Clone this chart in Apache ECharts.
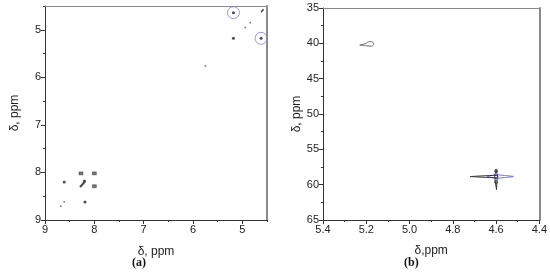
<!DOCTYPE html>
<html>
<head>
<meta charset="utf-8">
<script src="https://cdn.jsdelivr.net/npm/echarts@6/dist/echarts.min.js"></script>
<style>
html,body{margin:0;padding:0;background:#fff;}
#chart{width:550px;height:280px;}
</style>
</head>
<body>
<div id="chart"></div>
<script>
// panel (a): tick labels
var xTicksA = [9, 8, 7, 6, 5];
var yTicksA = [5, 6, 7, 8, 9];
// panel (b): tick labels
var xTicksB = [5.4, 5.2, 5.0, 4.8, 4.6, 4.4];
var yTicksB = [35, 40, 45, 50, 55, 60, 65];

// panel (a) peaks [x ppm, y ppm]
var peaksA = [[5.18, 4.64], [4.62, 5.18], [5.18, 5.18], [8.61, 8.2], [8.19, 8.62], [8.2, 8.18]];
var squaresA = [[8.27, 8.02], [8.0, 8.02], [8.0, 8.29]];
var smearA = [[8.29, 8.31], [8.19, 8.19]];
var smearTopA = [[4.62, 4.63], [4.57, 4.57]];
var weakA = [[4.84, 4.85], [4.94, 4.95], [5.75, 5.76], [8.68, 8.71], [8.61, 8.62]];
var circledA = [[5.18, 4.64], [4.62, 5.18]];

// panel (b) contours [x ppm, y ppm]
var contourB1 = [[5.23, 40.25], [5.205, 40.05], [5.185, 39.75], [5.17, 39.85], [5.165, 40.15], [5.175, 40.4], [5.2, 40.35], [5.23, 40.25]];
var contourB2 = [[4.72, 58.85], [4.66, 58.75], [4.6, 58.68], [4.59, 58.85], [4.6, 59.02], [4.66, 58.95], [4.72, 58.85]];
var contourB3 = [[4.64, 58.85], [4.6, 58.6], [4.56, 58.7], [4.52, 58.85], [4.56, 59.0], [4.6, 59.1], [4.64, 58.85]];
var contourB4 = [[4.6, 57.9], [4.596, 58.4], [4.594, 58.85], [4.596, 59.5], [4.598, 60.7], [4.602, 60.7], [4.604, 59.5], [4.606, 58.85], [4.604, 58.4], [4.6, 57.9]];
var loopsB = [[4.6, 58.05], [4.6, 59.65]];

var chart = echarts.init(document.getElementById('chart'));
var txt = '#222';
var axisCol = '#333';

function mainAxis(grid, min, max, pos, ticks, inv, fmt, name, gap) {
	return {
		gridIndex: grid, type: 'value', min: min, max: max, inverse: inv, position: pos,
		name: name, nameLocation: 'middle', nameGap: gap,
		nameTextStyle: {fontFamily: 'Liberation Sans', fontSize: 12, color: txt},
		axisLine: {onZero: false, lineStyle: {color: axisCol, width: 1}},
		axisTick: {customValues: ticks, length: 4, lineStyle: {color: axisCol}},
		axisLabel: {customValues: ticks, margin: 4, fontFamily: 'Liberation Sans', fontSize: 11, color: txt, formatter: fmt},
		splitLine: {show: false}
	};
}
function minorAxis(grid, min, max, pos, step, inv) {
	return {
		gridIndex: grid, type: 'value', min: min, max: max, inverse: inv, position: pos, interval: step,
		axisLine: {show: false, onZero: false},
		axisTick: {length: 2, lineStyle: {color: axisCol}},
		axisLabel: {show: false}, splitLine: {show: false}
	};
}
function frameAxis(grid, min, max, pos, inv, w) {
	return {
		gridIndex: grid, type: 'value', min: min, max: max, inverse: inv, position: pos,
		axisLine: {onZero: false, lineStyle: {color: '#8a8a8a', width: w}},
		axisTick: {show: false}, axisLabel: {show: false}, splitLine: {show: false}
	};
}
function fmtB(v) { return v.toFixed(1); }

var option = {
	animation: false,
	grid: [
		{left: 45, top: 6, width: 222, height: 214},
		{left: 323, top: 8, width: 219, height: 212}
	],
	xAxis: [
		mainAxis(0, 4.5, 9, 'bottom', xTicksA, true, null, 'δ, ppm', 26),
		mainAxis(1, 4.4, 5.4, 'bottom', xTicksB, true, fmtB, 'δ,ppm', 25),
		minorAxis(0, 4.5, 9, 'bottom', 0.5, true),
		minorAxis(1, 4.4, 5.4, 'bottom', 0.1, true),
		frameAxis(0, 4.5, 9, 'top', true, 1),
		frameAxis(1, 4.4, 5.4, 'top', true, 1)
	],
	yAxis: [
		mainAxis(0, 4.5, 9, 'left', yTicksA, true, null, 'δ, ppm', 24),
		mainAxis(1, 35, 65, 'left', yTicksB, true, null, 'δ, ppm', 14),
		minorAxis(0, 4.5, 9, 'left', 0.5, true),
		minorAxis(1, 35, 65, 'left', 2.5, true),
		frameAxis(0, 4.5, 9, 'right', true, 2),
		frameAxis(1, 35, 65, 'right', true, 2)
	],
	graphic: [
		{type: 'text', left: 132, top: 257, style: {text: '(a)', font: 'bold 12px "Liberation Serif"', fill: '#111'}},
		{type: 'text', left: 404, top: 257, style: {text: '(b)', font: 'bold 12px "Liberation Serif"', fill: '#111'}}
	],
	series: [
		{type: 'scatter', xAxisIndex: 0, yAxisIndex: 0, data: peaksA, symbol: 'circle', symbolSize: 3, itemStyle: {color: '#222'}},
		{type: 'scatter', xAxisIndex: 0, yAxisIndex: 0, data: squaresA, symbol: 'rect', symbolSize: [4, 3], itemStyle: {color: '#555', borderColor: '#222', borderWidth: 0.5}},
		{type: 'line', xAxisIndex: 0, yAxisIndex: 0, data: smearA, symbol: 'none', lineStyle: {color: '#444', width: 2}},
		{type: 'line', xAxisIndex: 0, yAxisIndex: 0, data: smearTopA, symbol: 'none', lineStyle: {color: '#444', width: 1.5}},
		{type: 'scatter', xAxisIndex: 0, yAxisIndex: 0, data: weakA, symbol: 'circle', symbolSize: 1.8, itemStyle: {color: '#555'}},
		{type: 'scatter', xAxisIndex: 0, yAxisIndex: 0, data: circledA, symbol: 'circle', symbolSize: 12, itemStyle: {color: 'rgba(0,0,0,0)', borderColor: '#8080e0', borderWidth: 1}},
		{type: 'line', xAxisIndex: 1, yAxisIndex: 1, data: contourB1, symbol: 'none', smooth: 0.3, lineStyle: {color: '#666', width: 1}},
		{type: 'line', xAxisIndex: 1, yAxisIndex: 1, data: contourB3, symbol: 'none', smooth: 0.2, lineStyle: {color: '#6a6ae8', width: 1}},
		{type: 'line', xAxisIndex: 1, yAxisIndex: 1, data: contourB2, symbol: 'none', smooth: 0.2, lineStyle: {color: '#333', width: 1}},
		{type: 'line', xAxisIndex: 1, yAxisIndex: 1, data: contourB4, symbol: 'none', lineStyle: {color: '#333', width: 1}},
		{type: 'scatter', xAxisIndex: 1, yAxisIndex: 1, data: loopsB, symbol: 'circle', symbolSize: 3, itemStyle: {color: 'rgba(0,0,0,0)', borderColor: '#333', borderWidth: 1}}
	]
};
chart.setOption(option);
</script>
</body>
</html>
